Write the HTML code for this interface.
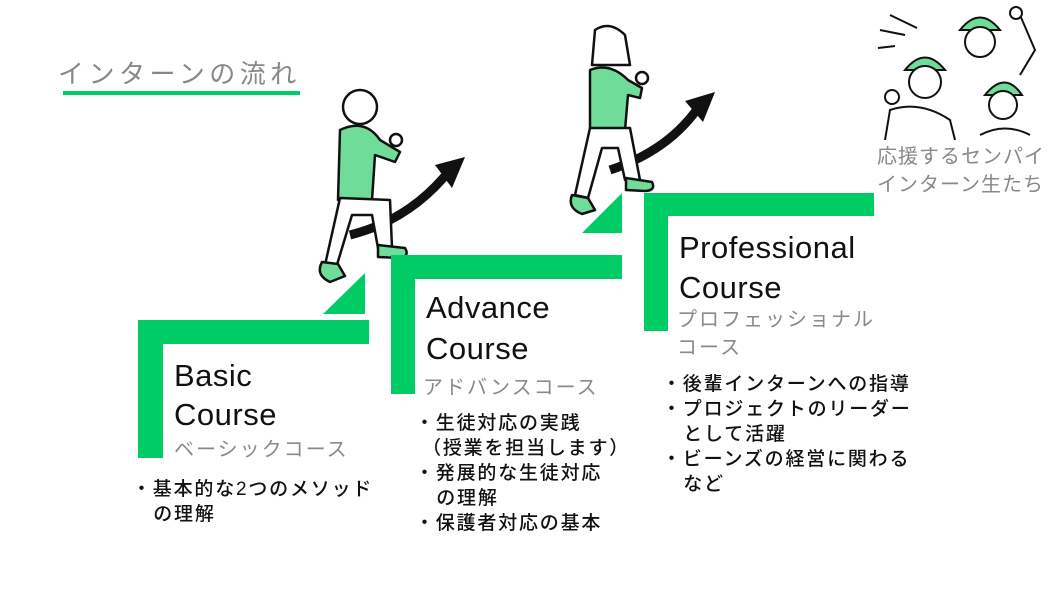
<!DOCTYPE html>
<html><head><meta charset="utf-8">
<style>
html,body{margin:0;padding:0;background:#fff;}
body{width:1050px;height:591px;position:relative;overflow:hidden;font-family:"Liberation Sans","Noto Sans CJK JP",sans-serif;}
.g{position:absolute;background:#00cc66;}
.t{position:absolute;white-space:nowrap;}
.title{font-size:31px;color:#111;line-height:39px;letter-spacing:0.5px;}
.sub{font-size:20px;color:#8a8a8a;letter-spacing:2px;}
.b{font-size:19px;color:#111;line-height:25px;font-weight:500;letter-spacing:1.8px;}
</style></head><body>
<div class="t" style="left:58px;top:54px;font-size:26px;color:#888;letter-spacing:4.5px;">インターンの流れ</div>
<div class="g" style="left:63px;top:91px;width:237px;height:4px;"></div>

<div class="g" style="left:138px;top:320px;width:231px;height:24px;"></div>
<div class="g" style="left:138px;top:320px;width:25px;height:138px;"></div>
<svg style="position:absolute;left:0;top:0" width="1050" height="591">
<polygon points="323,314 365,273 365,314" fill="#00cc66"/>
<polygon points="582,233 622,193 622,233" fill="#00cc66"/>
<path d="M350,235 Q410,220 450,170" stroke="#111" stroke-width="9" fill="none"/>
<polygon points="435,165 465,157 452,188" fill="#111"/>
<path d="M610,170 Q670,150 700,105" stroke="#111" stroke-width="9" fill="none"/>
<polygon points="685,101 715,92 703,122" fill="#111"/>
<g stroke="#111" stroke-width="2.5" stroke-linejoin="round">
<circle cx="360" cy="107" r="17" fill="#fff"/>
<path d="M340,130 Q365,118 380,140 L400,152 L395,162 L375,155 L372,200 L338,200 Z" fill="#6fdc9a"/>
<path d="M340,198 L325,265 L336,268 L352,215 L372,215 L378,248 L392,248 L390,200 Z" fill="#fff"/>
<path d="M322,262 Q315,275 330,282 L345,276 L338,264 Z" fill="#6fdc9a"/>
<path d="M378,245 L405,248 Q410,256 400,258 L378,257 Z" fill="#6fdc9a"/>
<circle cx="396" cy="140" r="6" fill="#fff"/>
</g>
<g stroke="#111" stroke-width="2.5" stroke-linejoin="round">
<path d="M595,30 Q610,20 625,35 L630,65 L592,65 Z" fill="#fff"/>
<path d="M590,70 Q610,62 628,80 L642,88 L640,98 L628,95 L625,130 L590,130 Z" fill="#6fdc9a"/>
<path d="M590,128 L575,195 L588,198 L602,148 L618,148 L625,180 L640,180 L630,128 Z" fill="#fff"/>
<path d="M572,195 Q567,208 582,214 L595,210 L588,198 Z" fill="#6fdc9a"/>
<path d="M626,178 L652,182 Q656,190 646,191 L626,190 Z" fill="#6fdc9a"/>
<circle cx="642" cy="78" r="6" fill="#fff"/>
</g>
<g stroke="#111" stroke-width="2" fill="#fff">
<path d="M890,15 L917,28 M880,30 L905,35 M878,48 L895,46" />
<path d="M905,70 Q925,45 945,70 Z" fill="#6fdc9a"/>
<circle cx="925" cy="82" r="16"/>
<path d="M960,30 Q980,5 1000,30 Z" fill="#6fdc9a"/>
<circle cx="980" cy="42" r="15"/>
<path d="M985,95 Q1005,70 1022,95 Z" fill="#6fdc9a"/>
<circle cx="1003" cy="105" r="14"/>
<path d="M885,140 L890,110 Q920,100 950,120 L955,140" fill="none"/>
<path d="M1020,15 L1035,50 L1020,75" fill="none"/>
<circle cx="1016" cy="13" r="6"/>
<circle cx="892" cy="97" r="7"/>
<path d="M980,135 Q1005,122 1030,135" fill="none"/>
</g>
</svg>
<div class="t title" style="left:174px;top:356px;">Basic</div>
<div class="t title" style="left:174px;top:395px;">Course</div>
<div class="t sub" style="left:174px;top:433px;">ベーシックコース</div>
<div class="t b" style="left:132px;top:477px;">・基本的な2つのメソッド<br>&nbsp;&nbsp;&nbsp;の理解</div>

<div class="g" style="left:391px;top:255px;width:231px;height:24px;"></div>
<div class="g" style="left:391px;top:255px;width:24px;height:139px;"></div>
<div class="t title" style="left:426px;top:288px;">Advance</div>
<div class="t title" style="left:426px;top:329px;">Course</div>
<div class="t sub" style="left:423px;top:371px;">アドバンスコース</div>
<div class="t b" style="left:415px;top:411px;">・生徒対応の実践<br>&nbsp;（授業を担当します）<br>・発展的な生徒対応<br>&nbsp;&nbsp;&nbsp;の理解<br>・保護者対応の基本</div>

<div class="g" style="left:644px;top:193px;width:230px;height:23px;"></div>
<div class="g" style="left:644px;top:193px;width:24px;height:138px;"></div>
<div class="t title" style="left:679px;top:228px;">Professional</div>
<div class="t title" style="left:679px;top:268px;">Course</div>
<div class="t sub" style="left:677px;top:306px;line-height:28px;">プロフェッショナル<br>コース</div>
<div class="t b" style="left:662px;top:372px;">・後輩インターンへの指導<br>・プロジェクトのリーダー<br>&nbsp;&nbsp;&nbsp;として活躍<br>・ビーンズの経営に関わる<br>&nbsp;&nbsp;&nbsp;など</div>

<div class="t" style="left:877px;top:143px;font-size:20px;color:#888;line-height:28px;letter-spacing:1px;">応援するセンパイ<br>インターン生たち</div>
</body></html>
